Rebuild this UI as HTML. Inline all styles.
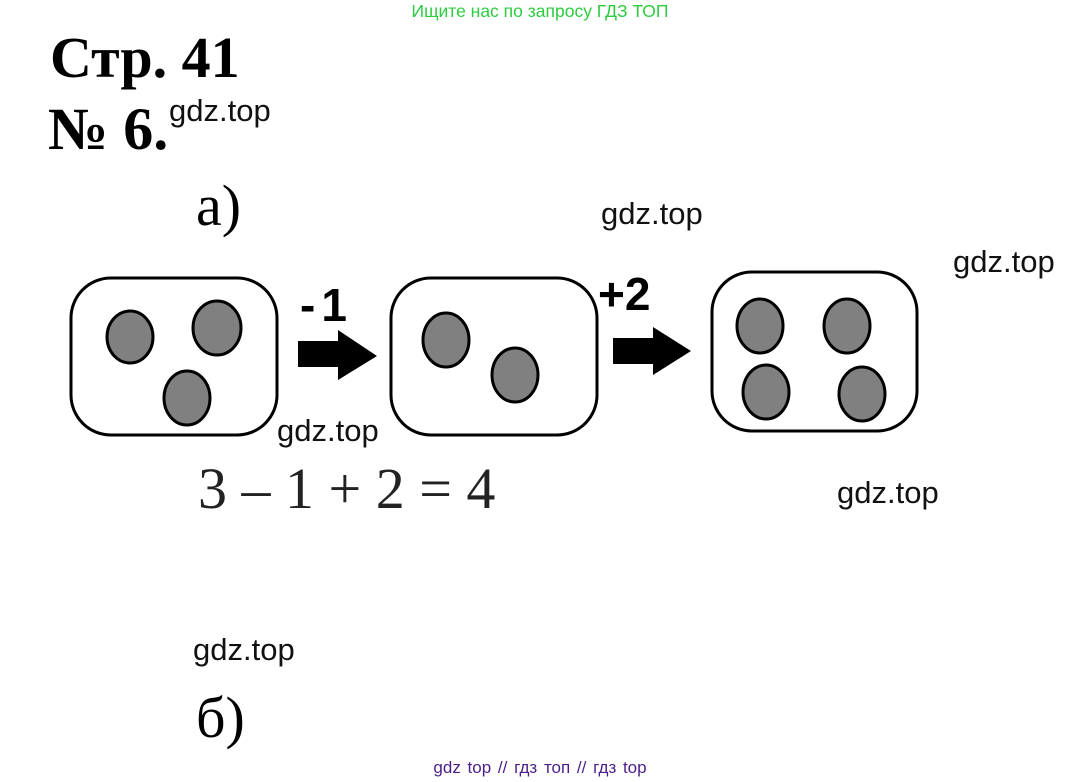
<!DOCTYPE html>
<html><head><meta charset="utf-8"><style>
body{margin:0;width:1080px;height:782px;background:#fff;overflow:hidden}
svg{display:block}
</style></head><body>
<svg width="1080" height="782" xmlns="http://www.w3.org/2000/svg">
<text x="540" y="17" text-anchor="middle" font-family="Liberation Sans, sans-serif" font-size="17.5" fill="#2ecc40">Ищите нас по запросу ГДЗ ТОП</text>
<text x="50" y="77" font-family="Liberation Serif, serif" font-weight="bold" font-size="58">Стр. 41</text>
<text x="48" y="149" font-family="Liberation Serif, serif" font-weight="bold" font-size="60">№ 6.</text>
<g font-family="Liberation Sans, sans-serif" font-size="31" fill="#111">
<text x="169" y="121">gdz.top</text>
<text x="601" y="224">gdz.top</text>
<text x="953" y="272">gdz.top</text>
<text x="277" y="441">gdz.top</text>
<text x="837" y="503">gdz.top</text>
<text x="193" y="660">gdz.top</text>
</g>
<text x="196" y="225" font-family="Liberation Serif, serif" font-size="58">а)</text>
<text x="196" y="737" font-family="Liberation Serif, serif" font-size="58">б)</text>
<text x="198" y="508" font-family="Liberation Serif, serif" font-size="58" fill="#222">3 – 1 + 2 = 4</text>
<g fill="#fff" stroke="#000" stroke-width="3">
<rect x="71" y="278" width="206" height="157" rx="40"/>
<rect x="391" y="278" width="206" height="157" rx="40"/>
<rect x="712" y="272" width="205" height="159" rx="40"/>
</g>
<g fill="#808080" stroke="#000" stroke-width="3">
<ellipse cx="130" cy="337" rx="23" ry="26"/>
<ellipse cx="217" cy="328" rx="24" ry="27"/>
<ellipse cx="187" cy="398" rx="23" ry="27"/>
<ellipse cx="446" cy="340" rx="23" ry="27"/>
<ellipse cx="515" cy="375" rx="23" ry="27"/>
<ellipse cx="760" cy="326" rx="23" ry="27"/>
<ellipse cx="847" cy="326" rx="23" ry="27"/>
<ellipse cx="766" cy="392" rx="23" ry="27"/>
<ellipse cx="862" cy="394" rx="23" ry="27"/>
</g>
<polygon points="298,341 338,341 338,330 377,356 338,380 338,367 298,367" fill="#000"/>
<polygon points="613,338 653,338 653,327 691,351 653,375 653,364 613,364" fill="#000"/>
<text x="300" y="321" font-family="Liberation Sans, sans-serif" font-weight="bold" font-size="46" letter-spacing="6">-1</text>
<text x="598" y="310" font-family="Liberation Sans, sans-serif" font-weight="bold" font-size="46">+2</text>
<text x="540" y="773" text-anchor="middle" font-family="Liberation Sans, sans-serif" font-size="17" fill="#4b1e8a" word-spacing="2">gdz top // гдз топ // гдз top</text>
</svg>
</body></html>
